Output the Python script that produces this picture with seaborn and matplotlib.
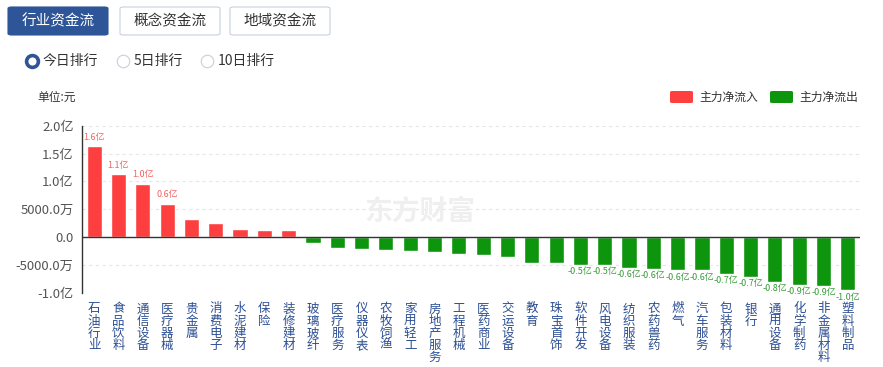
import numpy as np
import pandas as pd
import matplotlib
matplotlib.use("Agg")
import matplotlib.pyplot as plt
from matplotlib.patches import FancyBboxPatch
from matplotlib.lines import Line2D
import seaborn as sns

# 行业资金流 - 主力净流入/净流出 (单位: 亿元)
categories = ["石油行业", "食品饮料", "通信设备", "医疗器械", "贵金属", "消费电子",
              "水泥建材", "保险", "装修建材", "玻璃玻纤", "医疗服务", "仪器仪表",
              "农牧饲渔", "家用轻工", "房地产服务", "工程机械", "医药商业", "交运设备",
              "教育", "珠宝首饰", "软件开发", "风电设备", "纺织服装", "农药兽药",
              "燃气", "汽车服务", "包装材料", "银行", "通用设备", "化学制药",
              "非金属材料", "塑料制品"]
values = [1.63, 1.13, 0.96, 0.60, 0.33, 0.26, 0.15, 0.13, 0.13, -0.11, -0.19, -0.21,
          -0.23, -0.25, -0.26, -0.31, -0.33, -0.36, -0.46, -0.47, -0.50, -0.50, -0.56,
          -0.57, -0.60, -0.60, -0.66, -0.72, -0.80, -0.86, -0.88, -0.96]
ytick_vals = [-1.0, -0.5, 0.0, 0.5, 1.0, 1.5, 2.0]
ytick_labels = ["-1.0亿", "-5000.0万", "0.0", "5000.0万", "1.0亿", "1.5亿", "2.0亿"]
tabs = ["行业资金流", "概念资金流", "地域资金流"]
ranks = ["今日排行", "5日排行", "10日排行"]
legend_names = ["主力净流入", "主力净流出"]

RED = "#fd3f3f"
GREEN = "#0e950e"

df = pd.DataFrame({"板块": categories, "净额": values})
df["方向"] = np.where(df["净额"] >= 0, legend_names[0], legend_names[1])

sns.set_theme(style="white")
plt.rcParams["font.family"] = ["Noto Sans CJK SC", "DejaVu Sans"]
plt.rcParams["axes.unicode_minus"] = False

fig = plt.figure(figsize=(8.83, 3.67), dpi=100)
W, H = 883, 367
ax = fig.add_axes([82 / W, 1 - 292.7 / H, (860 - 82) / W, (292.7 - 125.7) / H])

sns.barplot(data=df, x="板块", y="净额", hue="方向",
            palette={legend_names[0]: RED, legend_names[1]: GREEN},
            dodge=False, width=0.62, legend=False, ax=ax, saturation=1)

ax.set_ylim(-1.0, 2.0)
ax.set_xlim(-0.5, len(categories) - 0.5)
ax.set_yticks(ytick_vals)
ax.set_yticklabels(ytick_labels, fontsize=9.5, color="#555555")
for yv in ytick_vals:
    if yv != 0:
        ax.axhline(yv, color="#e6e6e6", lw=0.8, ls=(0, (3, 3)), zorder=0)
ax.axhline(0, color="#333333", lw=1.0, zorder=3)
ax.set_xticks(range(len(categories)))
ax.set_xticklabels(["\n".join(c) for c in categories], fontsize=9,
                   color="#2c4f94", linespacing=0.92, va="top")
ax.tick_params(axis="x", length=0, pad=7)
ax.tick_params(axis="y", length=0, pad=6)
ax.set_xlabel("")
ax.set_ylabel("")
for s in ["top", "right", "bottom"]:
    ax.spines[s].set_visible(False)
ax.spines["left"].set_color("#333333")
ax.spines["left"].set_linewidth(1.0)

# value labels for the larger bars
for cont in ax.containers:
    labs = []
    for bar in cont:
        v = bar.get_height()
        labs.append(f"{v:.1f}亿" if abs(v) >= 0.495 else "")
    pos = cont[0].get_height() >= 0
    col = "#f06464" if pos else "#3a9a3a"
    ax.bar_label(cont, labels=labs, fontsize=6.5, color=col, padding=3 if pos else 1.5)

# watermark
fig.text(0.475, 1 - 212 / H, "东方财富", fontsize=20, color="#efefef",
         fontweight="bold", ha="center", va="center", style="italic", zorder=0)

# top tabs
for i, t in enumerate(tabs):
    x0 = [8, 120, 230][i]
    filled = i == 0
    box = FancyBboxPatch((x0 / W, 1 - 35 / H), 100 / W, 28 / H,
                         boxstyle="round,pad=0,rounding_size=0.004",
                         transform=fig.transFigure, facecolor="#2d5597" if filled else "white",
                         edgecolor="#2d5597" if filled else "#c8d0dc", lw=0.8)
    fig.add_artist(box)
    fig.text((x0 + 50) / W, 1 - 21 / H, t, fontsize=10.5,
             color="white" if filled else "#333333", ha="center", va="center")

# radio options
for i, r in enumerate(ranks):
    cx = [32, 123, 207][i]
    if i == 0:
        mk = Line2D([cx / W], [1 - 61 / H], marker="o", markersize=8.5,
                    markerfacecolor="white", markeredgecolor="#2d5597",
                    markeredgewidth=2.6, transform=fig.transFigure)
    else:
        mk = Line2D([cx / W], [1 - 61 / H], marker="o", markersize=9,
                    markerfacecolor="white", markeredgecolor="#c8d0dc",
                    markeredgewidth=0.8, transform=fig.transFigure)
    fig.add_artist(mk)
    fig.text((cx + 11) / W, 1 - 61 / H, r, fontsize=10, color="#333333",
             ha="left", va="center")

fig.text(37 / W, 1 - 97 / H, "单位:元", fontsize=8.5, color="#333333", ha="left", va="center")

# legend
for i, (name, col) in enumerate(zip(legend_names, [RED, GREEN])):
    x0 = [670, 770][i]
    fig.add_artist(FancyBboxPatch((x0 / W, 1 - 103 / H), 23 / W, 12 / H,
                                  boxstyle="round,pad=0,rounding_size=0.003",
                                  transform=fig.transFigure, facecolor=col, edgecolor="none"))
    fig.text((x0 + 29) / W, 1 - 97 / H, name, fontsize=8.5, color="#333333",
             ha="left", va="center")

fig.savefig("out.png", dpi=100)
